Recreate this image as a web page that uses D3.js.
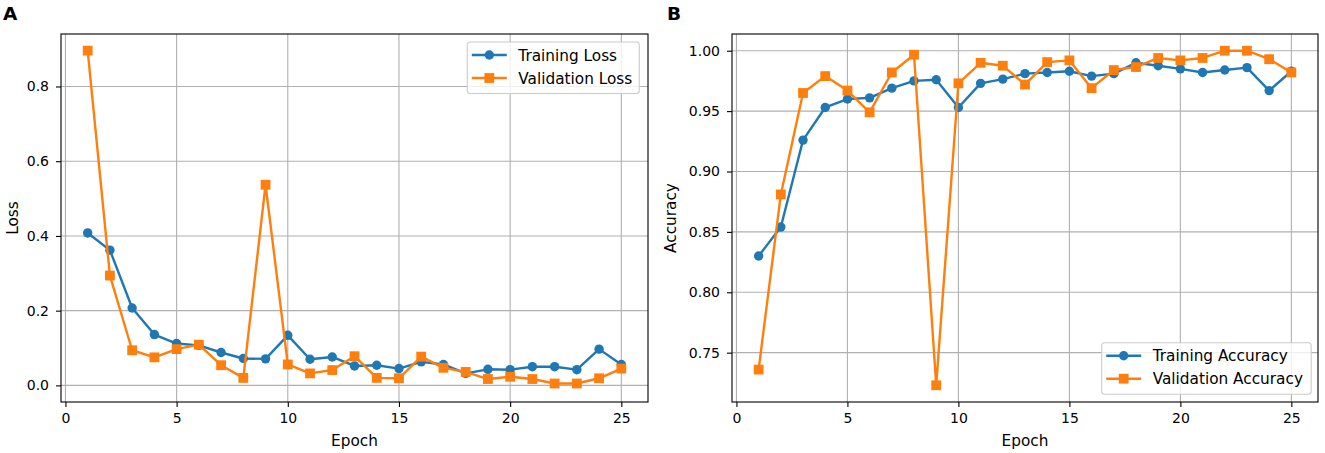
<!DOCTYPE html>
<html>
<head>
<meta charset="utf-8">
<script src="https://cdn.jsdelivr.net/npm/d3@7"></script>
<style>
  body { margin: 0; background: #fff; }
  text { font-family: "DejaVu Sans", sans-serif; fill: #000; }
</style>
</head>
<body>
<svg id="chart" width="1325" height="453"></svg>
<script>
var epochs = [1,2,3,4,5,6,7,8,9,10,11,12,13,14,15,16,17,18,19,20,21,22,23,24,25];
var trainLoss = [0.408,0.362,0.207,0.136,0.112,0.107,0.088,0.072,0.071,0.134,0.070,0.076,0.052,0.054,0.045,0.063,0.056,0.032,0.043,0.042,0.050,0.050,0.042,0.097,0.056];
var valLoss = [0.896,0.294,0.094,0.075,0.097,0.109,0.054,0.020,0.537,0.056,0.032,0.041,0.078,0.020,0.019,0.077,0.047,0.036,0.017,0.023,0.017,0.005,0.005,0.019,0.045];
var trainAcc = [0.830,0.854,0.926,0.953,0.960,0.961,0.969,0.975,0.976,0.953,0.973,0.9765,0.981,0.982,0.983,0.979,0.981,0.990,0.9876,0.985,0.982,0.984,0.986,0.967,0.983];
var valAcc = [0.736,0.881,0.965,0.979,0.967,0.949,0.982,0.9967,0.723,0.973,0.990,0.9876,0.972,0.9906,0.992,0.969,0.984,0.9865,0.994,0.992,0.994,1.000,1.000,0.993,0.982];
var epochTicks = [0,5,10,15,20,25];
var lossTicks = [0.0,0.2,0.4,0.6,0.8];
var accTicks = [0.75,0.80,0.85,0.90,0.95,1.00];

var BLUE = "#1f77b4", ORANGE = "#ff7f0e";
var svg = d3.select("#chart");

//Draws one panel: grid, two series, axes, labels and legend
var panel = function (o) {
  var x = d3.scaleLinear().domain([-0.2, 26.2]).range([o.x0, o.x1]),
      y = d3.scaleLinear().domain(o.ydom).range([o.y1, o.y0]),
      g = svg.append("g");

  //grid
  g.append("g").selectAll("line")
    .data(epochTicks).enter().append("line")
    .attr("x1", function (d) { return x(d) }).attr("x2", function (d) { return x(d) })
    .attr("y1", o.y0).attr("y2", o.y1)
    .attr("stroke", "#b0b0b0").attr("stroke-width", 1.1);
  g.append("g").selectAll("line")
    .data(o.yticks).enter().append("line")
    .attr("y1", function (d) { return y(d) }).attr("y2", function (d) { return y(d) })
    .attr("x1", o.x0).attr("x2", o.x1)
    .attr("stroke", "#b0b0b0").attr("stroke-width", 1.1);

  //series, training first so validation sits on top
  var series = [
    { vals: o.train, color: BLUE, shape: "circle", name: o.names[0] },
    { vals: o.val, color: ORANGE, shape: "square", name: o.names[1] }
  ];
  var line = d3.line().x(function (d, i) { return x(epochs[i]) }).y(function (d) { return y(d) });
  series.forEach(function (s) {
    g.append("path").datum(s.vals)
      .attr("d", line).attr("fill", "none")
      .attr("stroke", s.color).attr("stroke-width", 2.4)
      .attr("stroke-linejoin", "round");
    marks(g, s, s.vals.map(function (d, i) { return [x(epochs[i]), y(d)] }));
  });

  //spines
  g.append("rect")
    .attr("x", o.x0).attr("y", o.y0)
    .attr("width", o.x1 - o.x0).attr("height", o.y1 - o.y0)
    .attr("fill", "none").attr("stroke", "#000").attr("stroke-width", 1.1);

  //axes
  var xa = g.append("g").attr("transform", "translate(0," + o.y1 + ")")
    .call(d3.axisBottom(x).tickValues(epochTicks).tickSize(5).tickPadding(6).tickFormat(d3.format("d")));
  var ya = g.append("g").attr("transform", "translate(" + o.x0 + ",0)")
    .call(d3.axisLeft(y).tickValues(o.yticks).tickSize(5).tickPadding(7).tickFormat(d3.format(o.yfmt)));
  [xa, ya].forEach(function (a) {
    a.select(".domain").remove();
    a.selectAll("line").attr("stroke", "#000").attr("stroke-width", 1.1);
    a.selectAll("text").attr("font-size", "14px").attr("font-family", "DejaVu Sans");
  });

  g.append("text")
    .attr("x", (o.x0 + o.x1) / 2).attr("y", 446)
    .attr("text-anchor", "middle").attr("font-size", "15.3px")
    .text("Epoch");
  g.append("text")
    .attr("transform", "translate(" + o.ylabx + "," + (o.y0 + o.y1) / 2 + ") rotate(-90)")
    .attr("text-anchor", "middle").attr("font-size", "15.3px")
    .text(o.ylabel);
  g.append("text")
    .attr("x", o.letterx).attr("y", 20)
    .attr("font-size", "18.5px").attr("font-weight", "bold")
    .text(o.letter);

  //legend
  var lg = g.append("g").attr("transform", "translate(" + o.leg[0] + "," + o.leg[1] + ")");
  lg.append("rect")
    .attr("width", o.leg[2]).attr("height", 51.5).attr("rx", 3)
    .attr("fill", "#fff").attr("fill-opacity", 0.8)
    .attr("stroke", "#cccccc").attr("stroke-width", 1.1);
  series.forEach(function (s, i) {
    var cy = 13 + i * 23;
    lg.append("line")
      .attr("x1", 4.5).attr("x2", 39.5).attr("y1", cy).attr("y2", cy)
      .attr("stroke", s.color).attr("stroke-width", 2.4);
    marks(lg, s, [[22, cy]]);
    lg.append("text")
      .attr("x", 51).attr("y", cy + 5.7)
      .attr("font-size", "15.3px")
      .text(s.name);
  });
};

var marks = function (g, s, pts) {
  if (s.shape == "circle") {
    g.append("g").selectAll("circle")
      .data(pts).enter().append("circle")
      .attr("cx", function (d) { return d[0] }).attr("cy", function (d) { return d[1] })
      .attr("r", 4.7).attr("fill", s.color);
  } else {
    g.append("g").selectAll("rect")
      .data(pts).enter().append("rect")
      .attr("x", function (d) { return d[0] - 4.9 }).attr("y", function (d) { return d[1] - 4.9 })
      .attr("width", 9.8).attr("height", 9.8).attr("fill", s.color);
  }
};

panel({
  x0: 61, x1: 648, y0: 34, y1: 402,
  ydom: [-0.0445, 0.9405], yticks: lossTicks, yfmt: ".1f",
  train: trainLoss, val: valLoss,
  names: ["Training Loss", "Validation Loss"],
  ylabel: "Loss", ylabx: 17.5,
  letter: "A", letterx: 3,
  leg: [467.3, 42, 172]
});
panel({
  x0: 732, x1: 1318, y0: 34, y1: 402,
  ydom: [0.70915, 1.01385], yticks: accTicks, yfmt: ".2f",
  train: trainAcc, val: valAcc,
  names: ["Training Accuracy", "Validation Accuracy"],
  ylabel: "Accuracy", ylabx: 676,
  letter: "B", letterx: 667,
  leg: [1101.7, 342.7, 209.5]
});
</script>
</body>
</html>
